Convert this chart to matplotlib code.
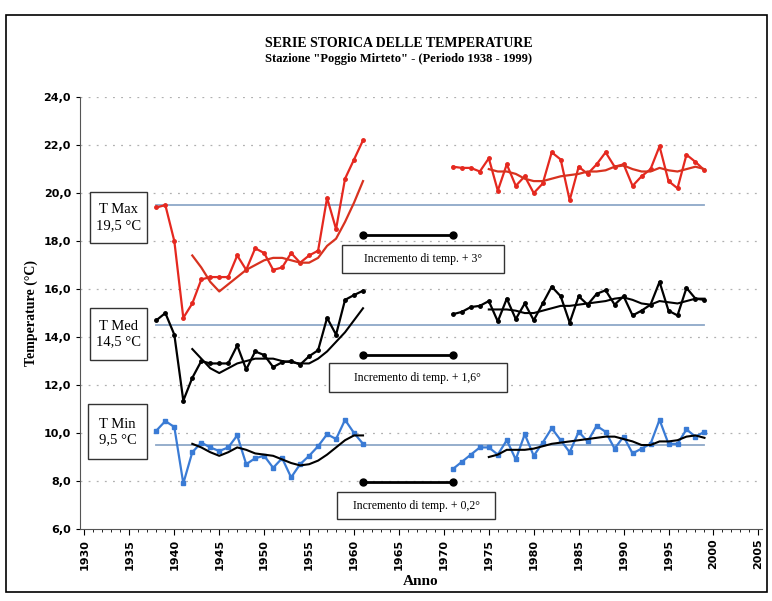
import matplotlib
matplotlib.use('Agg')
import matplotlib.pyplot as plt
from matplotlib.patches import Rectangle
from matplotlib.ticker import MultipleLocator, FuncFormatter

# Data
years_a = list(range(1938, 1962))
years_b = list(range(1971, 2000))
trend_years_a = list(range(1942, 1962))
trend_years_b = list(range(1975, 2000))

tmax_a = [19.4, 19.5, 18.0, 14.8, 15.4, 16.4, 16.5, 16.5, 16.5, 17.4, 16.8, 17.7,
          17.5, 16.8, 16.9, 17.5, 17.1, 17.4, 17.6, 19.8, 18.5, 20.6, 21.4, 22.2]
tmax_b = [21.1, 21.05, 21.05, 20.9, 21.45, 20.1, 21.2, 20.3, 20.7, 20.0, 20.4, 21.7,
          21.4, 19.7, 21.1, 20.8, 21.2, 21.7, 21.1, 21.2, 20.3, 20.7, 21.0, 21.95,
          20.5, 20.2, 21.6, 21.3, 20.95]
tmax_trend_a = [17.4, 16.9, 16.3, 15.9, 16.2, 16.5, 16.8, 17.0, 17.2, 17.3, 17.3, 17.2,
                17.1, 17.1, 17.3, 17.8, 18.1, 18.8, 19.6, 20.5]
tmax_trend_b = [21.0, 20.9, 20.9, 20.8, 20.6, 20.5, 20.5, 20.6, 20.7, 20.75, 20.8, 20.9,
                20.9, 20.95, 21.1, 21.15, 21.0, 20.9, 20.9, 21.05, 20.95, 20.9, 21.0,
                21.1, 21.0]

tmed_a = [14.7, 15.0, 14.1, 11.35, 12.3, 13.0, 12.9, 12.9, 12.9, 13.65, 12.65, 13.4,
          13.25, 12.75, 12.95, 13.0, 12.85, 13.2, 13.45, 14.8, 14.1, 15.55, 15.75, 15.93]
tmed_b = [14.95, 15.05, 15.25, 15.3, 15.5, 14.65, 15.6, 14.75, 15.4, 14.7, 15.4, 16.1,
          15.7, 14.6, 15.7, 15.35, 15.8, 15.95, 15.35, 15.7, 14.9, 15.1, 15.35, 16.3,
          15.1, 14.9, 16.05, 15.6, 15.55]
tmed_trend_a = [13.5, 13.1, 12.7, 12.5, 12.7, 12.9, 13.0, 13.1, 13.1, 13.1, 13.0, 12.95,
                12.9, 12.9, 13.1, 13.4, 13.8, 14.2, 14.7, 15.2]
tmed_trend_b = [15.15, 15.15, 15.15, 15.1, 15.0, 15.0, 15.1, 15.2, 15.3, 15.3, 15.35,
                15.4, 15.45, 15.5, 15.6, 15.65, 15.55, 15.4, 15.35, 15.5, 15.45, 15.4,
                15.5, 15.6, 15.6]

tmin_a = [10.1, 10.5, 10.25, 7.9, 9.2, 9.6, 9.4, 9.25, 9.4, 9.9, 8.7, 8.95,
          9.05, 8.55, 8.95, 8.15, 8.7, 9.05, 9.45, 9.95, 9.75, 10.55, 10.0, 9.55]
tmin_b = [8.5, 8.8, 9.1, 9.4, 9.4, 9.1, 9.7, 8.9, 9.95, 9.05, 9.6, 10.2,
          9.7, 9.2, 10.05, 9.65, 10.3, 10.05, 9.35, 9.85, 9.15, 9.35, 9.55, 10.55,
          9.55, 9.55, 10.15, 9.85, 10.05]
tmin_trend_a = [9.55, 9.4, 9.2, 9.05, 9.2, 9.4, 9.3, 9.15, 9.1, 9.05, 8.9, 8.75,
                8.65, 8.7, 8.85, 9.1, 9.4, 9.7, 9.9, 9.9]
tmin_trend_b = [9.0, 9.1, 9.3, 9.3, 9.3, 9.35, 9.45, 9.55, 9.6, 9.65, 9.7, 9.75,
                9.8, 9.85, 9.85, 9.75, 9.65, 9.5, 9.5, 9.65, 9.65, 9.7, 9.85, 9.9, 9.8]

ref_values = [19.5, 14.5, 9.5]
ref_labels = ['T Max\n19,5 °C', 'T Med\n14,5 °C', 'T Min\n9,5 °C']
inc_labels = ['Incremento di temp. + 3°', 'Incremento di temp. + 1,6°',
              'Incremento di temp. + 0,2°']
inc_levels = [18.25, 13.25, 7.95]
inc_span = (1961, 1971)

RED = '#e5281f'
BLUE = '#3a7bd5'
REF = '#8ea8c8'
serif = 'Liberation Serif'

fig = plt.figure(figsize=(7.72, 6.01), dpi=100)
ax = fig.add_axes([0.1036, 0.1198, 0.8834, 0.7186])

# outer frame
fig.patches.append(Rectangle((0.008, 0.015), 0.986, 0.96, transform=fig.transFigure,
                             fill=False, edgecolor='black', linewidth=1.2))

# grid
for v in range(8, 25, 2):
    ax.axhline(v, color='#b0b0b0', linestyle=(0, (1.5, 5)), linewidth=0.9, zorder=0)

# reference lines
for v in ref_values:
    ax.plot([1938, 1999], [v, v], color=REF, linewidth=1.3, zorder=1)

# T Max
ax.plot(years_a, tmax_a, color=RED, lw=1.6, marker='o', ms=2.5, zorder=3)
ax.plot(years_b, tmax_b, color=RED, lw=1.6, marker='o', ms=2.5, zorder=3)
ax.plot(trend_years_a, tmax_trend_a, color='#d8321f', lw=1.6, zorder=3)
ax.plot(trend_years_b, tmax_trend_b, color='#d8321f', lw=1.6, zorder=3)

# T Med
ax.plot(years_a, tmed_a, color='black', lw=1.6, marker='o', ms=2.5, zorder=3)
ax.plot(years_b, tmed_b, color='black', lw=1.6, marker='o', ms=2.5, zorder=3)
ax.plot(trend_years_a, tmed_trend_a, color='black', lw=1.5, zorder=3)
ax.plot(trend_years_b, tmed_trend_b, color='black', lw=1.5, zorder=3)

# T Min
ax.plot(years_a, tmin_a, color=BLUE, lw=1.6, marker='s', ms=3.5, zorder=3)
ax.plot(years_b, tmin_b, color=BLUE, lw=1.6, marker='s', ms=3.5, zorder=3)
ax.plot(trend_years_a, tmin_trend_a, color='black', lw=1.5, zorder=4)
ax.plot(trend_years_b, tmin_trend_b, color='black', lw=1.5, zorder=4)

# left boxes with reference values
left_boxes = [(1930.6, 17.9, 20.05), (1930.6, 13.05, 15.2), (1930.4, 8.9, 11.2)]
for lab, (x0, y0, y1) in zip(ref_labels, left_boxes):
    ax.add_patch(Rectangle((x0, y0), 1937.0 - x0, y1 - y0, facecolor='white',
                           edgecolor='#333333', linewidth=1.0, zorder=5))
    ax.text((x0 + 1937.0) / 2, (y0 + y1) / 2, lab, ha='center', va='center',
            fontsize=10.5, family=serif, linespacing=1.25, zorder=6)

# increment annotations
inc_boxes = [(1958.7, 1976.7, 16.67, 17.83), (1957.2, 1977.0, 11.7, 12.9),
             (1958.1, 1975.7, 6.4, 7.55)]
for lab, lvl, (x0, x1, y0, y1) in zip(inc_labels, inc_levels, inc_boxes):
    ax.plot(list(inc_span), [lvl, lvl], color='black', lw=2, marker='o', ms=5, zorder=5)
    ax.add_patch(Rectangle((x0, y0), x1 - x0, y1 - y0, facecolor='white',
                           edgecolor='#333333', linewidth=1.0, zorder=5))
    ax.text((x0 + x1) / 2, (y0 + y1) / 2, lab, ha='center', va='center',
            fontsize=8.5, family=serif, zorder=6)

ax.set_xlim(1929.5, 2005.4)
ax.set_ylim(6, 24)
ax.xaxis.set_major_locator(MultipleLocator(5))
ax.xaxis.set_minor_locator(MultipleLocator(1))
ax.yaxis.set_major_locator(MultipleLocator(2))
ax.yaxis.set_major_formatter(FuncFormatter(lambda v, p: f'{v:.1f}'.replace('.', ',')))
ax.tick_params(axis='x', which='major', length=4, labelsize=8, rotation=90, pad=3)
ax.tick_params(axis='x', which='minor', length=2.5)
ax.tick_params(axis='y', length=3, labelsize=8)
for lbl in ax.get_xticklabels() + ax.get_yticklabels():
    lbl.set_fontweight('bold')

for s in ['top', 'right']:
    ax.spines[s].set_visible(False)
ax.spines['left'].set_color('#555555')
ax.spines['bottom'].set_color('#555555')

ax.set_xlabel('Anno', fontsize=11, fontweight='bold', family=serif, labelpad=4)
ax.set_ylabel('Temperature (°C)', fontsize=10, fontweight='bold', family=serif, labelpad=4)

fig.text(0.516, 0.928, 'SERIE STORICA DELLE TEMPERATURE', ha='center', va='center',
         fontsize=10, fontweight='bold', family=serif)
fig.text(0.516, 0.902, 'Stazione "Poggio Mirteto" - (Periodo 1938 - 1999)', ha='center',
         va='center', fontsize=9, fontweight='bold', family=serif)

fig.savefig('out.png', dpi=100)
